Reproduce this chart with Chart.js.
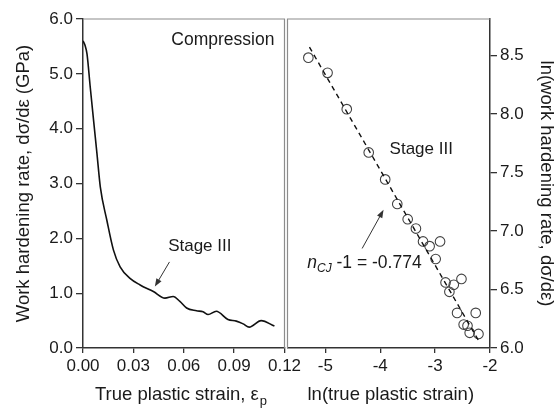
<!DOCTYPE html>
<html>
<head>
<meta charset="utf-8">
<script src="https://cdn.jsdelivr.net/npm/chart.js@4.4.1/dist/chart.umd.min.js"></script>
<style>
  html, body { margin: 0; padding: 0; background: #fff; }
  #wrap { position: relative; width: 559px; height: 410px; }
  #wrap canvas { position: absolute; left: 0; top: 0; }
</style>
</head>
<body>
<div id="wrap">
  <canvas id="chart-left" width="559" height="410"></canvas>
  <canvas id="chart-right" width="559" height="410"></canvas>
</div>
<script>
// left panel: work hardening rate vs true plastic strain (compression)
const strain = [0, 0.0012, 0.0024, 0.0043, 0.0063, 0.0083, 0.0103, 0.0142, 0.0181, 0.0221,
    0.028, 0.034, 0.0419, 0.0488, 0.0537, 0.0577, 0.0617, 0.0676, 0.0715, 0.0745,
    0.0794, 0.0863, 0.0913, 0.0954, 0.099, 0.1061, 0.114];
const hardeningRate = [5.60, 5.52, 5.36, 4.76, 4.15, 3.55, 2.94, 2.33, 1.79, 1.48,
    1.27, 1.15, 1.03, 0.91, 0.94, 0.85, 0.73, 0.68, 0.66, 0.61,
    0.67, 0.52, 0.49, 0.44, 0.38, 0.50, 0.40];
const strainTicks = [0, 0.03, 0.06, 0.09, 0.12];
const rateTicks = [0, 1, 2, 3, 4, 5, 6];

// right panel: ln(rate) vs ln(strain), stage III
const lnStrain = [-5.31, -4.96, -4.61, -4.21, -3.91, -3.69, -3.50, -3.35, -3.22, -3.10,
    -2.91, -2.99, -2.81, -2.66, -2.52, -2.74, -2.60, -2.26, -2.48, -2.41, -2.37, -2.21];
const lnRate = [8.48, 8.35, 8.04, 7.67, 7.44, 7.23, 7.10, 7.02, 6.91, 6.87,
    6.91, 6.76, 6.56, 6.54, 6.59, 6.48, 6.30, 6.30, 6.20, 6.19, 6.13, 6.12];
const fitLnStrain = [-5.29, -2.18];
const fitLnRate = [8.57, 6.04];
const lnStrainTicks = [-5, -4, -3, -2];
const lnRateTicks = [6.0, 6.5, 7.0, 7.5, 8.0, 8.5];

const FONT = '"Liberation Sans", Arial, sans-serif';
Chart.defaults.font.family = FONT;
Chart.defaults.color = '#1a1a1a';

const axisColor = '#333';
const frameColor = '#8c8c8c';
const textColor = '#1a1a1a';

function fixedSize(size) {
    return scale => {
        if (scale.isHorizontal()) scale.height = size; else scale.width = size;
    };
}

function useTicks(values) {
    return scale => { scale.ticks = values.map(v => ({ value: v })); };
}

function arrow(ctx, x1, y1, x2, y2) {
    const ang = Math.atan2(y2 - y1, x2 - x1);
    const len = 8, half = 3;
    ctx.beginPath();
    ctx.moveTo(x1, y1);
    ctx.lineTo(x2 - Math.cos(ang) * len * 0.8, y2 - Math.sin(ang) * len * 0.8);
    ctx.stroke();
    ctx.beginPath();
    ctx.moveTo(x2, y2);
    ctx.lineTo(x2 - len * Math.cos(ang) + half * Math.sin(ang), y2 - len * Math.sin(ang) - half * Math.cos(ang));
    ctx.lineTo(x2 - len * Math.cos(ang) - half * Math.sin(ang), y2 - len * Math.sin(ang) + half * Math.cos(ang));
    ctx.closePath();
    ctx.fill();
}

const axisGrid = len => ({ drawOnChartArea: false, tickLength: len, color: axisColor, lineWidth: 1.3 });
const axisBorder = { color: axisColor, width: 1.5 };

// frame + texts for the left panel
const leftDecor = {
    id: 'leftDecor',
    afterDraw(chart) {
        const { ctx, chartArea: a, scales: { x, y } } = chart;
        ctx.save();
        ctx.strokeStyle = frameColor;
        ctx.lineWidth = 1.2;
        ctx.beginPath();
        ctx.moveTo(a.left, a.top);
        ctx.lineTo(a.right, a.top);
        ctx.lineTo(a.right, a.bottom);
        ctx.stroke();

        ctx.fillStyle = textColor;
        ctx.textBaseline = 'alphabetic';
        ctx.font = '17.5px ' + FONT;
        ctx.textAlign = 'right';
        ctx.fillText('Compression', x.getPixelForValue(0.114), y.getPixelForValue(5.53));
        ctx.textAlign = 'left';
        ctx.font = '17px ' + FONT;
        ctx.fillText('Stage III', x.getPixelForValue(0.0507), y.getPixelForValue(1.77));

        ctx.strokeStyle = '#333';
        ctx.fillStyle = '#333';
        ctx.lineWidth = 1;
        arrow(ctx, x.getPixelForValue(0.0515), y.getPixelForValue(1.57),
            x.getPixelForValue(0.0428), y.getPixelForValue(1.12));

        // x axis title with subscript
        ctx.fillStyle = textColor;
        ctx.font = '18.5px ' + FONT;
        const tx = a.left + 12, ty = a.bottom + 52;
        const main = 'True plastic strain, ε';
        ctx.fillText(main, tx, ty);
        const w = ctx.measureText(main).width;
        ctx.font = '13px ' + FONT;
        ctx.fillText('p', tx + w + 1, ty + 5);
        ctx.restore();
    }
};

// frame + texts for the right panel
const rightDecor = {
    id: 'rightDecor',
    afterDraw(chart) {
        const { ctx, chartArea: a, scales: { x, y } } = chart;
        ctx.save();
        ctx.strokeStyle = frameColor;
        ctx.lineWidth = 1.2;
        ctx.beginPath();
        ctx.moveTo(a.left, a.bottom);
        ctx.lineTo(a.left, a.top);
        ctx.lineTo(a.right, a.top);
        ctx.stroke();

        ctx.fillStyle = textColor;
        ctx.textAlign = 'left';
        ctx.textBaseline = 'alphabetic';
        ctx.font = '17px ' + FONT;
        ctx.fillText('Stage III', x.getPixelForValue(-3.83), y.getPixelForValue(7.66));

        // n_CJ -1 = -0.774
        let px = x.getPixelForValue(-5.33);
        const py = y.getPixelForValue(6.68);
        ctx.font = 'italic 17.5px ' + FONT;
        ctx.fillText('n', px, py);
        px += ctx.measureText('n').width;
        ctx.font = 'italic 12px ' + FONT;
        ctx.fillText('CJ', px, py + 4);
        px += ctx.measureText('CJ').width;
        ctx.font = '17.5px ' + FONT;
        ctx.fillText(' -1 = -0.774', px, py);

        ctx.strokeStyle = '#333';
        ctx.fillStyle = '#333';
        ctx.lineWidth = 1;
        arrow(ctx, x.getPixelForValue(-4.33), y.getPixelForValue(6.85),
            x.getPixelForValue(-3.94), y.getPixelForValue(7.18));

        ctx.fillStyle = textColor;
        ctx.font = '18.5px ' + FONT;
        ctx.fillText('ln(true plastic strain)', a.left + 20, a.bottom + 52);
        ctx.restore();
    }
};

new Chart(document.getElementById('chart-left'), {
    type: 'line',
    data: {
        datasets: [{
            data: strain.map((v, i) => ({ x: v, y: hardeningRate[i] })),
            borderColor: '#111',
            borderWidth: 1.6,
            pointRadius: 0,
            cubicInterpolationMode: 'monotone',
            fill: false
        }]
    },
    options: {
        responsive: false,
        animation: false,
        devicePixelRatio: 1,
        layout: { padding: { top: 19, right: 274.5, bottom: 0, left: 0 } },
        plugins: { legend: { display: false }, tooltip: { enabled: false } },
        scales: {
            x: {
                type: 'linear', min: 0, max: 0.12,
                afterFit: fixedSize(62),
                afterBuildTicks: useTicks(strainTicks),
                grid: axisGrid(5),
                border: axisBorder,
                ticks: { padding: 3, autoSkip: false, maxRotation: 0, font: { size: 17 }, callback: v => v.toFixed(2) }
            },
            y: {
                type: 'linear', min: 0, max: 6,
                afterFit: fixedSize(83),
                afterBuildTicks: useTicks(rateTicks),
                grid: axisGrid(7),
                border: axisBorder,
                ticks: { padding: 3, autoSkip: false, font: { size: 17 }, callback: v => v.toFixed(1) },
                title: {
                    display: true,
                    text: 'Work hardening rate, dσ/dε (GPa)',
                    color: textColor,
                    font: { size: 18.5 },
                    padding: { top: 13, bottom: 0 }
                }
            }
        }
    },
    plugins: [leftDecor]
});

new Chart(document.getElementById('chart-right'), {
    type: 'scatter',
    data: {
        datasets: [{
            data: fitLnStrain.map((v, i) => ({ x: v, y: fitLnRate[i] })),
            showLine: true,
            borderColor: '#111',
            borderWidth: 1.4,
            borderDash: [5, 4],
            pointRadius: 0
        }, {
            data: lnStrain.map((v, i) => ({ x: v, y: lnRate[i] })),
            pointRadius: 4.8,
            borderColor: '#444',
            backgroundColor: 'rgba(255,255,255,0)',
            borderWidth: 1.1
        }]
    },
    options: {
        responsive: false,
        animation: false,
        devicePixelRatio: 1,
        layout: { padding: { top: 19, right: 0, bottom: 0, left: 287.5 } },
        plugins: { legend: { display: false }, tooltip: { enabled: false } },
        scales: {
            x: {
                type: 'linear', min: -5.69, max: -2,
                afterFit: fixedSize(62),
                afterBuildTicks: useTicks(lnStrainTicks),
                grid: axisGrid(5),
                border: axisBorder,
                ticks: { padding: 3, autoSkip: false, maxRotation: 0, font: { size: 17 }, callback: v => String(v) }
            },
            y: {
                type: 'linear', position: 'right', min: 6, max: 8.81,
                afterFit: fixedSize(69),
                afterBuildTicks: useTicks(lnRateTicks),
                grid: axisGrid(7),
                border: axisBorder,
                ticks: { padding: 3, autoSkip: false, font: { size: 17 }, callback: v => v.toFixed(1) },
                title: {
                    display: true,
                    text: 'ln(work hardening rate, dσ/dε)',
                    color: textColor,
                    font: { size: 18.5 },
                    padding: { top: 1.5, bottom: 0 }
                }
            }
        }
    },
    plugins: [rightDecor]
});
</script>
</body>
</html>
